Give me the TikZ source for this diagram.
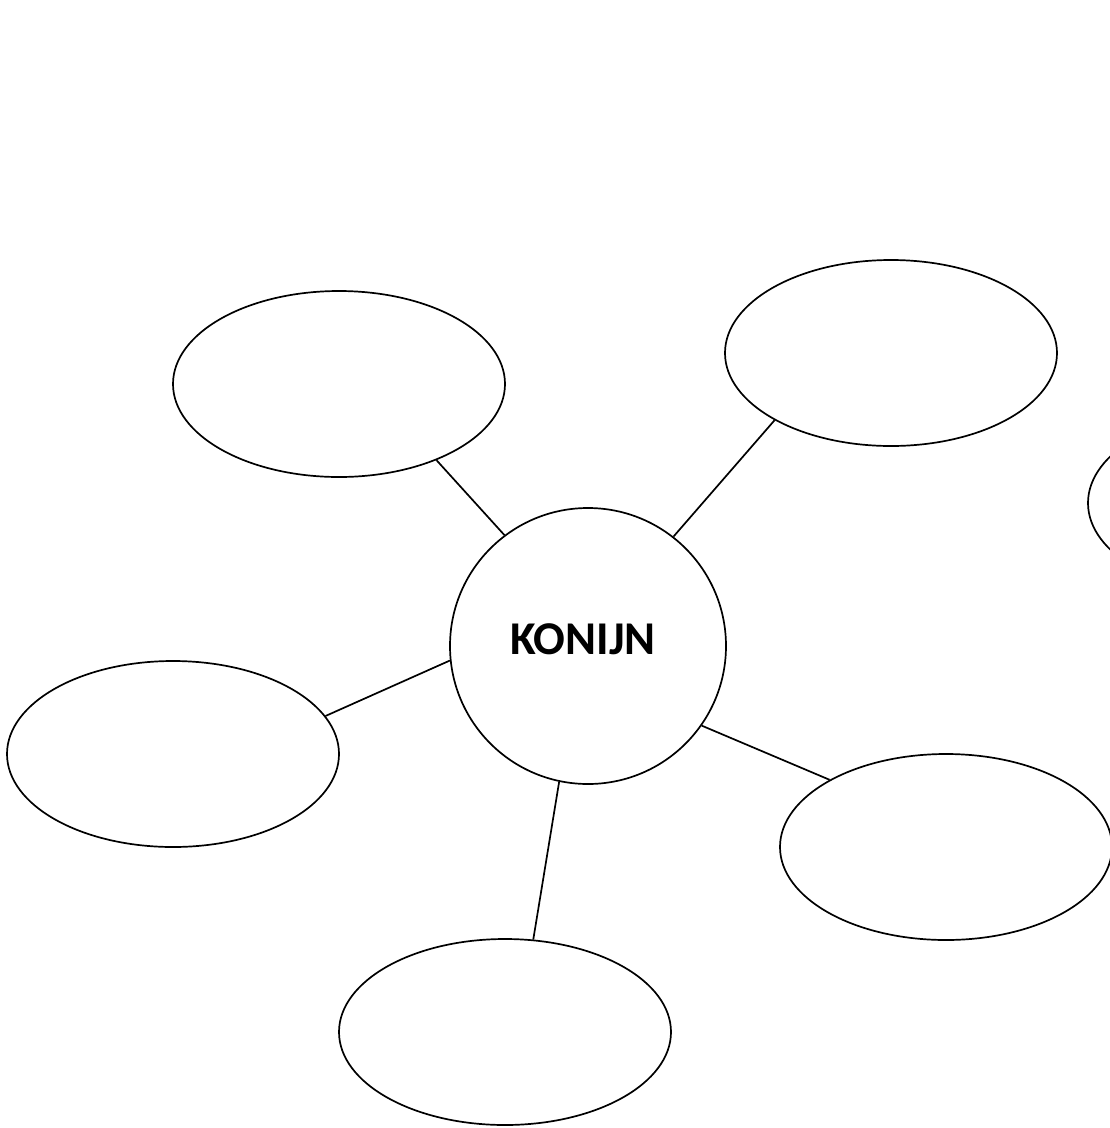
\documentclass[tikz,border=0pt]{standalone}
\usepackage{fontspec}
\setmainfont{Carlito}
\usetikzlibrary{shapes.geometric}
\tikzset{
  bubble/.style={ellipse, draw, line width=1.7pt, minimum width=332pt, minimum height=186pt, inner sep=0pt},
  hub/.style={circle, draw, line width=1.7pt, minimum size=276pt, inner sep=0pt},
  link/.style={line width=1.7pt},
}
\begin{document}
\begin{tikzpicture}[x=1pt,y=-1pt]
\useasboundingbox (0,0) rectangle (1110,1128);
\clip (0,0) rectangle (1110,1128);
\node[hub] (c) at (588,646) {};
\node[anchor=base, font=\fontsize{47}{54}\selectfont\bfseries] (lbl) at (583,654) {KONIJN};
\node[bubble] (tl) at (339,384) {};
\node[bubble] (tr) at (891,353) {};
\node[bubble] (l) at (173,754) {};
\node[bubble] (br) at (946,847) {};
\node[bubble] (b) at (505,1032) {};
\node[bubble] (r) at (1254,503) {};
\draw[link] (tl.-38.4) -- (c.127.9);
\draw[link] (tr.210.2) -- (c.52.8);
\draw[link] (l.14) -- (c.186.2);
\draw[link] (c.-35) -- (br.150.4);
\draw[link] (c.258.6) -- (b.73.6);
\end{tikzpicture}
\end{document}
